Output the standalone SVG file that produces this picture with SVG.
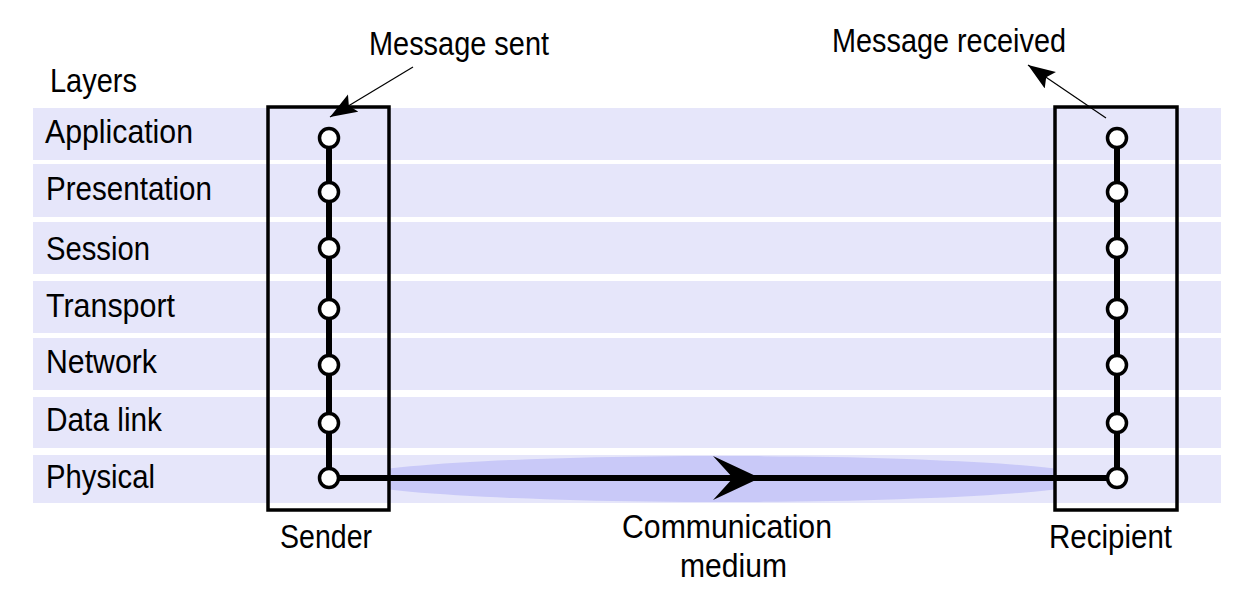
<svg xmlns="http://www.w3.org/2000/svg" width="1250" height="610" viewBox="0 0 1250 610">
<style>
.band{fill:#e6e6fa}
.lbl{font-family:"Liberation Sans Narrow","Liberation Sans",Arial,sans-serif;font-size:33px;fill:#000}
.box{fill:none;stroke:#000;stroke-width:3.5}
.stack{stroke:#000;stroke-width:6;fill:none}
.node{fill:#fff;stroke:#000;stroke-width:3.5}
.thin{stroke:#000;stroke-width:1.2;fill:none}
</style>
<defs>
<marker id="ah" markerUnits="userSpaceOnUse" markerWidth="30" markerHeight="22" refX="27" refY="10" orient="auto">
<path d="M0,0 L27,10 L0,20 L5,10 Z" fill="#000"/>
</marker>
<clipPath id="mid"><rect x="389" y="440" width="666" height="80"/></clipPath>
</defs>
<g id="bands">
<rect class="band" x="33" y="108" width="1188" height="52"/>
<rect class="band" x="33" y="164" width="1188" height="53"/>
<rect class="band" x="33" y="222" width="1188" height="52"/>
<rect class="band" x="33" y="281" width="1188" height="52"/>
<rect class="band" x="33" y="338" width="1188" height="52"/>
<rect class="band" x="33" y="397" width="1188" height="51"/>
<rect class="band" x="33" y="455" width="1188" height="48"/>
</g>
<ellipse id="medium-glow" cx="722" cy="479" rx="375" ry="23" fill="#c9c9f8" clip-path="url(#mid)"/>
<g id="layer-labels" class="lbl">
<text x="50" y="92" textLength="87" lengthAdjust="spacingAndGlyphs">Layers</text>
<text x="45" y="143" textLength="148" lengthAdjust="spacingAndGlyphs">Application</text>
<text x="46" y="200" textLength="166" lengthAdjust="spacingAndGlyphs">Presentation</text>
<text x="46" y="260" textLength="104" lengthAdjust="spacingAndGlyphs">Session</text>
<text x="46" y="317" textLength="129" lengthAdjust="spacingAndGlyphs">Transport</text>
<text x="46" y="373" textLength="111" lengthAdjust="spacingAndGlyphs">Network</text>
<text x="46" y="431" textLength="116" lengthAdjust="spacingAndGlyphs">Data link</text>
<text x="46" y="488" textLength="109" lengthAdjust="spacingAndGlyphs">Physical</text>
</g>
<g id="connectors">
<line class="stack" x1="329" y1="138" x2="329" y2="478"/>
<line class="stack" x1="1117" y1="138" x2="1117" y2="478"/>
<line class="stack" x1="329" y1="478" x2="1117" y2="478"/>
<path d="M713,456 L760,478 L713,500 L733,478 Z" fill="#000"/>
<line class="thin" x1="413" y1="67" x2="330" y2="117" marker-end="url(#ah)"/>
<line class="thin" x1="1106" y1="118" x2="1028" y2="65" marker-end="url(#ah)"/>
</g>
<g id="sender">
<rect class="box" x="268" y="107" width="121" height="403"/>
<circle class="node" cx="329" cy="138" r="9.5"/>
<circle class="node" cx="329" cy="192" r="9.5"/>
<circle class="node" cx="329" cy="248" r="9.5"/>
<circle class="node" cx="329" cy="309" r="9.5"/>
<circle class="node" cx="329" cy="365" r="9.5"/>
<circle class="node" cx="329" cy="423" r="9.5"/>
<circle class="node" cx="329" cy="478" r="9.5"/>
<text class="lbl" x="280" y="548" textLength="92" lengthAdjust="spacingAndGlyphs">Sender</text>
</g>
<g id="recipient">
<rect class="box" x="1055" y="107" width="122" height="403"/>
<circle class="node" cx="1117" cy="138" r="9.5"/>
<circle class="node" cx="1117" cy="192" r="9.5"/>
<circle class="node" cx="1117" cy="248" r="9.5"/>
<circle class="node" cx="1117" cy="309" r="9.5"/>
<circle class="node" cx="1117" cy="365" r="9.5"/>
<circle class="node" cx="1117" cy="423" r="9.5"/>
<circle class="node" cx="1117" cy="478" r="9.5"/>
<text class="lbl" x="1049" y="548" textLength="123" lengthAdjust="spacingAndGlyphs">Recipient</text>
</g>
<g id="annotations" class="lbl">
<text x="369" y="55" textLength="180" lengthAdjust="spacingAndGlyphs">Message sent</text>
<text x="832" y="52" textLength="234" lengthAdjust="spacingAndGlyphs">Message received</text>
<text x="622" y="538" textLength="210" lengthAdjust="spacingAndGlyphs">Communication</text>
<text x="680" y="577" textLength="107" lengthAdjust="spacingAndGlyphs">medium</text>
</g>
</svg>
